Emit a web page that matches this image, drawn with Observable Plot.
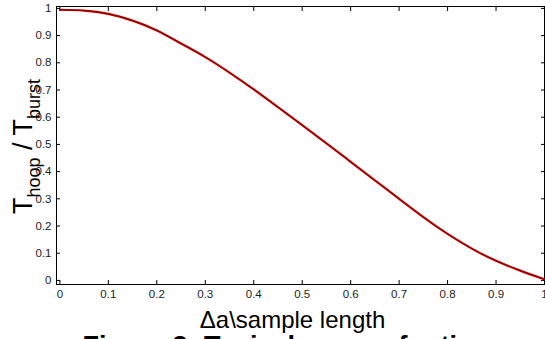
<!DOCTYPE html>
<html>
<head>
<meta charset="utf-8">
<script src="https://cdn.jsdelivr.net/npm/d3@7"></script>
<script src="https://cdn.jsdelivr.net/npm/@observablehq/plot@0.6"></script>
<style>
  html, body { margin: 0; padding: 0; background: white; }
  #chart { width: 545px; height: 339px; overflow: hidden; }
</style>
</head>
<body>
<div id="chart"></div>
<script>
// Data
const xValues = [0, 0.05, 0.1, 0.15, 0.2, 0.25, 0.3, 0.35, 0.4, 0.45, 0.5, 0.55, 0.6, 0.65, 0.7, 0.75, 0.8, 0.85, 0.9, 0.95, 1];
const yValues = [0.995, 0.992, 0.980, 0.955, 0.919, 0.871, 0.821, 0.764, 0.702, 0.637, 0.571, 0.504, 0.436, 0.368, 0.300, 0.233, 0.171, 0.117, 0.072, 0.036, 0.004];
const xTicks = [0, 0.1, 0.2, 0.3, 0.4, 0.5, 0.6, 0.7, 0.8, 0.9, 1];
const yTicks = [0, 0.1, 0.2, 0.3, 0.4, 0.5, 0.6, 0.7, 0.8, 0.9, 1];
const xLabel = "Δa\\sample length";
const yLabelMain1 = "T";
const yLabelSub1 = "hoop";
const yLabelMain2 = " / T";
const yLabelSub2 = "burst";
const caption = "Figure 3: Typical curve of ratio";

const data = xValues.map((x, i) => ({x, y: yValues[i]}));
const fmt = d => String(d);

const plot = Plot.plot({
  width: 545,
  height: 339,
  marginLeft: 56,
  marginRight: 1,
  marginTop: 6,
  marginBottom: 55,
  style: {fontFamily: "'Liberation Sans', Arial, sans-serif", fontSize: "11.5px", color: "#222", background: "white"},
  x: {domain: [-0.007, 1.0]},
  y: {domain: [-0.015, 1.007]},
  marks: [
    Plot.axisX(xTicks, {anchor: "bottom", tickSize: -4, tickPadding: 9, tickFormat: fmt, label: null, stroke: "black", fill: "#222"}),
    Plot.axisX(xTicks, {anchor: "top", tickSize: -4, tickFormat: () => "", label: null, stroke: "black"}),
    Plot.axisY(yTicks, {anchor: "left", tickSize: -4, tickPadding: 9, tickFormat: fmt, label: null, stroke: "black", fill: "#222"}),
    Plot.axisY(yTicks, {anchor: "right", tickSize: -4, tickFormat: () => "", label: null, stroke: "black"}),
    Plot.frame({stroke: "black", strokeWidth: 1}),
    Plot.line(data, {x: "x", y: "y", stroke: "#c00000", strokeWidth: 2.2, curve: "natural"}),
    Plot.line(data, {x: "x", y: "y", stroke: "#5a0000", strokeWidth: 0.6, strokeOpacity: 0.7, curve: "natural"}),
    Plot.text([xLabel], {frameAnchor: "bottom", dx: -8, dy: 43, fontSize: 24, fill: "black"}),
    Plot.text([caption], {frameAnchor: "bottom-left", textAnchor: "start", dx: 26, dy: 70, fontSize: 27, fontWeight: "bold", fill: "black"})
  ]
});

document.getElementById("chart").appendChild(plot);

// Rotated y-axis label with subscripts
const svg = d3.select(plot);
const t = svg.append("text")
  .attr("transform", "translate(32,146.5) rotate(-90)")
  .attr("text-anchor", "middle")
  .attr("font-family", "'Liberation Sans', Arial, sans-serif")
  .attr("font-size", 27)
  .attr("fill", "black");
t.append("tspan").text(yLabelMain1);
t.append("tspan").attr("font-size", 18).attr("dy", 8).text(yLabelSub1);
t.append("tspan").attr("dy", -8).text(yLabelMain2);
t.append("tspan").attr("font-size", 18).attr("dy", 8).text(yLabelSub2);
</script>
</body>
</html>
